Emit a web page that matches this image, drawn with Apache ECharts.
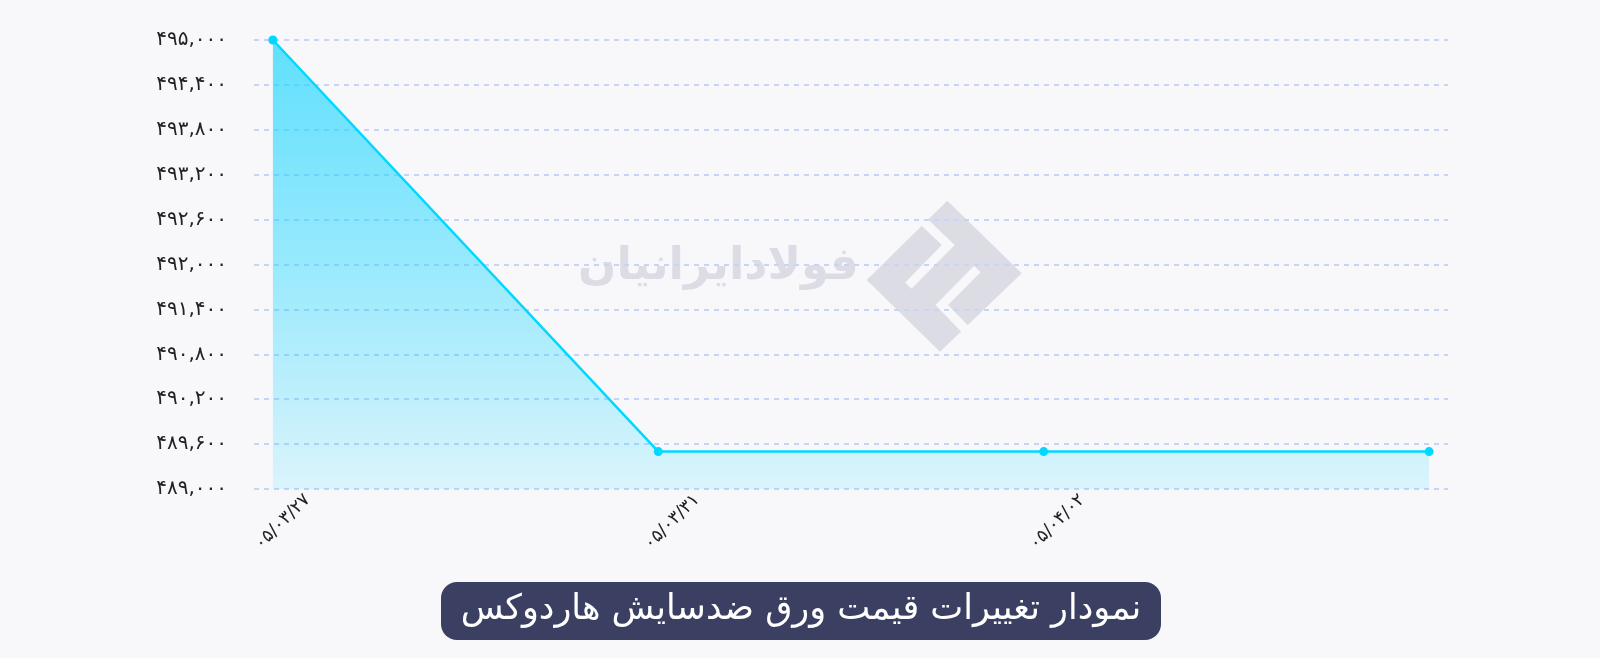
<!DOCTYPE html>
<html>
<head>
<meta charset="utf-8">
<script src="https://cdn.jsdelivr.net/npm/echarts@6/dist/echarts.min.js"></script>
<style>
  html, body { margin: 0; padding: 0; background: #f8f8fb; }
  #main { width: 1600px; height: 658px; }
</style>
</head>
<body>
<div id="main"></div>
<script>
// داده‌های نمودار
var dates = ["۰۵/۰۳/۲۷", "۰۵/۰۳/۳۱", "۰۵/۰۴/۰۲", "۰۵/۰۴/۰۳"];
var prices = [495000, 489500, 489500, 489500];
var yMin = 489000;
var yMax = 495000;
var yStep = 600;
var chartTitle = "نمودار تغییرات قیمت ورق ضدسایش هاردوکس";
var brand = "فولادایرانیان";

function toFa(str) {
  return String(str).replace(/[0-9]/g, function (d) {
    return "۰۱۲۳۴۵۶۷۸۹"[+d];
  });
}

var myChart = echarts.init(document.getElementById("main"));

var points = prices.map(function (v, i) {
  return [i, v];
});

var logoColor = "#dcdce4";
var gapColor = "#f8f8fb";

var option = {
  backgroundColor: "#f8f8fb",
  animation: false,
  grid: { left: 254, right: 152, top: 40, bottom: 169 },
  xAxis: {
    type: "value",
    min: -0.049,
    max: 3.049,
    axisLine: { show: false },
    axisTick: { show: false },
    splitLine: { show: false },
    axisLabel: {
      // برچسب‌ها کمی جلوتر از نقطه‌ها قرار دارند
      customValues: [0.09, 1.1, 2.1],
      rotate: 45,
      margin: 8,
      fontSize: 18,
      fontWeight: 500,
      color: "#222",
      fontFamily: "DejaVu Sans",
      formatter: function (v) {
        return dates[Math.round(v)];
      }
    }
  },
  yAxis: {
    type: "value",
    min: yMin,
    max: yMax,
    interval: yStep,
    axisLine: { show: false },
    axisTick: { show: false },
    axisLabel: {
      margin: 27,
      fontSize: 20,
      color: "#222",
      fontFamily: "DejaVu Sans",
      formatter: function (v) {
        return toFa(v.toLocaleString("en-US"));
      }
    },
    splitLine: {
      lineStyle: { color: "#c9d3f8", width: 2, type: [5, 5] }
    }
  },
  graphic: [
    {
      type: "text",
      z: -10,
      left: 578,
      top: 245,
      style: {
        text: brand,
        fill: logoColor,
        font: "bold 45px 'DejaVu Sans'"
      }
    },
    {
      type: "polygon",
      z: -10,
      shape: {
        points: [[947.3, 200.7], [1021.7, 273.3], [940, 351.7], [866.7, 280]]
      },
      style: { fill: logoColor }
    },
    {
      type: "polyline",
      z: -9,
      shape: { points: [[921, 219], [948.3, 245], [908.3, 285.7]] },
      style: { stroke: gapColor, lineWidth: 9, fill: null }
    },
    {
      type: "polyline",
      z: -9,
      shape: { points: [[977.3, 269], [941.7, 305], [967, 331]] },
      style: { stroke: gapColor, lineWidth: 9, fill: null }
    },
    {
      type: "rect",
      z: 10,
      shape: { x: 441, y: 582, width: 720, height: 58, r: 16 },
      style: { fill: "#3b4063" }
    },
    {
      type: "text",
      z: 11,
      x: 801,
      y: 610,
      style: {
        text: chartTitle,
        fill: "#fff",
        font: "35px 'DejaVu Sans'",
        align: "center",
        verticalAlign: "middle"
      }
    }
  ],
  series: [
    {
      type: "line",
      data: points,
      symbol: "circle",
      symbolSize: 9,
      itemStyle: { color: "#00d8ff" },
      lineStyle: { color: "#00d8ff", width: 2.5 },
      areaStyle: {
        color: {
          type: "linear",
          x: 0, y: 0, x2: 0, y2: 1,
          colorStops: [
            { offset: 0, color: "#1fd5ff" },
            { offset: 1, color: "rgba(0,212,255,0.17)" }
          ]
        }
      }
    }
  ]
};

myChart.setOption(option);
</script>
</body>
</html>
